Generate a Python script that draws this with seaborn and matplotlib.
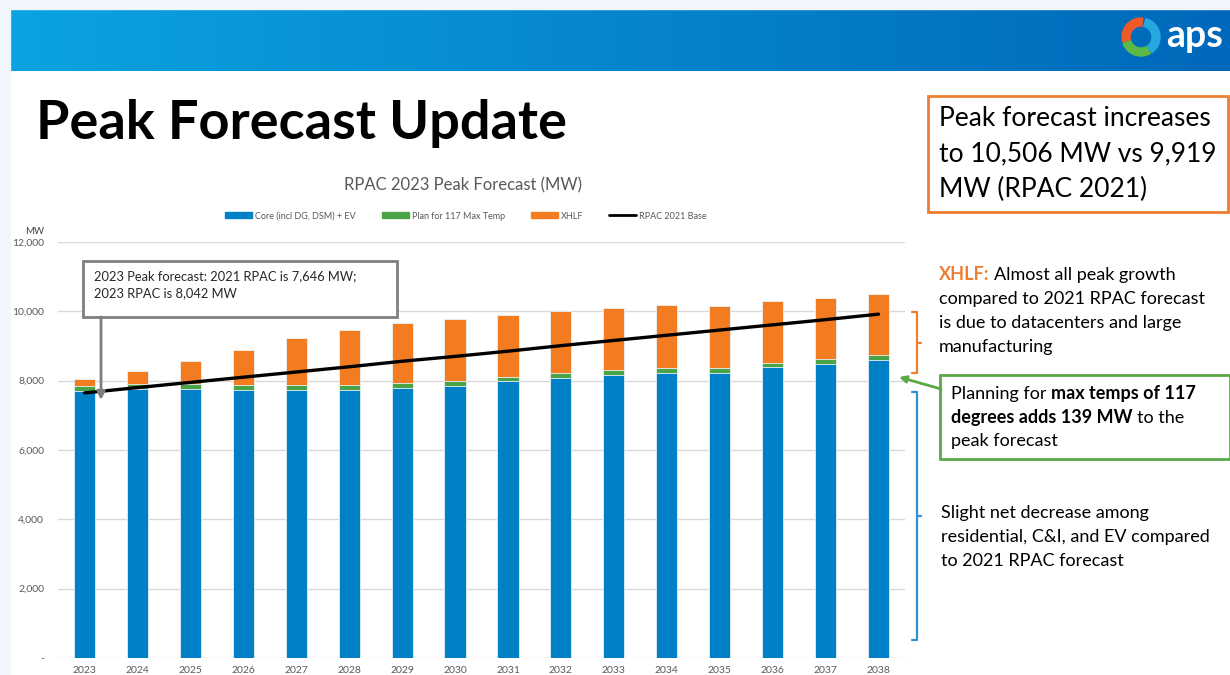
import matplotlib.pyplot as plt
import numpy as np
import pandas as pd
import seaborn as sns
from matplotlib.colors import LinearSegmentedColormap
from matplotlib.lines import Line2D
from matplotlib.patches import Patch, Rectangle, Wedge

# values (MW)
years = [str(y) for y in range(2023, 2039)]
core_ev = [7710, 7760, 7765, 7730, 7735, 7745, 7795, 7850,
           7980, 8075, 8160, 8235, 8225, 8380, 8485, 8590]
max_temp = [139] * 16
xhlf = [193, 388, 653, 1024, 1347, 1568, 1720, 1789,
        1784, 1786, 1787, 1799, 1799, 1778, 1760, 1777]
rpac_2021 = [7646, 7800, 7950, 8100, 8250, 8400, 8560, 8700,
             8850, 9010, 9160, 9310, 9460, 9610, 9760, 9919]
y_ticks = [0, 2000, 4000, 6000, 8000, 10000, 12000]
y_labels = ["-", "2,000", "4,000", "6,000", "8,000", "10,000", "12,000"]
legend_labels = ["Core (incl DG, DSM) + EV", "Plan for 117 Max Temp", "XHLF", "RPAC 2021 Base"]

BLUE = "#0080c6"
GREEN = "#4aa447"
ORANGE = "#f47c20"
GRAY = "#595959"

sns.set_theme(style="white")
plt.rcParams["font.family"] = ["Lato", "DejaVu Sans"]

df = pd.DataFrame({"year": years, "core": core_ev, "temp": max_temp, "xhlf": xhlf})
df["with_temp"] = df["core"] + df["temp"]
df["total"] = df["with_temp"] + df["xhlf"]

W, H = 1230, 675
fig = plt.figure(figsize=(12.3, 6.75), dpi=100)
fig.patch.set_facecolor("white")
ax = fig.add_axes([58 / W, 1 - 658 / H, 847 / W, 416 / H])

# stacked bars: draw cumulative totals from the top segment down
for col, color in [("total", ORANGE), ("with_temp", GREEN), ("core", BLUE)]:
    sns.barplot(data=df, x="year", y=col, color=color, saturation=1, width=0.4,
                edgecolor="#e9f1f8", linewidth=0.6, ax=ax)
sns.lineplot(x=np.arange(len(years)), y=rpac_2021, color="black", linewidth=2.4, ax=ax)

ax.set_xlim(-0.5, len(years) - 0.5)
ax.set_ylim(0, 12000)
ax.set_yticks(y_ticks, y_labels)
ax.set_xlabel("")
ax.set_ylabel("")
ax.grid(axis="y", color="#d9d9d9", linewidth=1)
ax.set_axisbelow(True)
sns.despine(ax=ax, left=True, bottom=True)
ax.tick_params(length=0, labelsize=7.5, labelcolor=GRAY)
ax.tick_params(axis="y", pad=10)
ax.tick_params(axis="x", pad=6)

handles = [Patch(color=BLUE), Patch(color=GREEN), Patch(color=ORANGE),
           Line2D([], [], color="black", linewidth=2)]
fig.legend(handles, legend_labels, ncol=4, loc="center", bbox_to_anchor=(466 / W, 1 - 216 / H),
           frameon=False, fontsize=6.5, handlelength=3.0, handleheight=0.6,
           columnspacing=2.9, handletextpad=0.3, labelcolor=GRAY)

# slide decorations in pixel coordinates
deco = fig.add_axes([0, 0, 1, 1])
deco.axis("off")
deco.add_patch(Rectangle((0, 0), 10, H, color="#f1f6fc"))
deco.add_patch(Rectangle((0, 0), W, 9, color="#f1f6fc"))
banner = LinearSegmentedColormap.from_list("banner", ["#0ca3e2", "#0068ba"])
deco.imshow(np.linspace(0, 1, 256).reshape(1, -1), extent=[10, W, 71, 9], aspect="auto", cmap=banner)
deco.set_xlim(0, W)
deco.set_ylim(H, 0)

cx, cy = 1141, 37
deco.add_patch(Wedge((cx, cy), 19, 165, 275, width=8, color="#f05a28"))
deco.add_patch(Wedge((cx, cy), 19, 60, 160, width=8, color="#5cb946"))
deco.add_patch(Wedge((cx, cy), 19, 285, 415, width=8, color="#25a9e0"))
deco.text(1166, 36, "aps", color="white", fontsize=27, fontweight="bold", va="center")

deco.text(36, 124, "Peak Forecast Update", fontsize=39, fontweight="bold", color="black", va="center")
deco.text(463, 185, "RPAC 2023 Peak Forecast (MW)", fontsize=12, color=GRAY, ha="center", va="center")
deco.text(35, 232, "MW", fontsize=7, color="#404040", ha="center", va="center")

renderer = fig.canvas.get_renderer()


def text_width(s, size, weight):
    t = deco.text(0, 0, s, fontsize=size, fontweight=weight)
    w = t.get_window_extent(renderer=renderer).width
    t.remove()
    return w


def rich_line(x, y, parts, size):
    space = text_width("a a", size, "normal") - text_width("aa", size, "normal")
    for txt, weight, color in parts:
        t = deco.text(x, y, txt, fontsize=size, fontweight=weight, color=color, va="center")
        x += t.get_window_extent(renderer=renderer).width + space


def plain_lines(x, ys, lines, size, color="black"):
    for y, line in zip(ys, lines):
        deco.text(x, y, line, fontsize=size, color=color, va="center")


# callout over the 2023 bar
deco.add_patch(Rectangle((83, 261), 314, 56, facecolor="white", edgecolor="#7f7f7f", linewidth=2))
plain_lines(94, [276, 293], ["2023 Peak forecast: 2021 RPAC is 7,646 MW;", "2023 RPAC is 8,042 MW"],
            9.3, "#262626")
deco.annotate("", xy=(101, 400), xytext=(101, 317),
              arrowprops=dict(arrowstyle="-|>", color="#7f7f7f", lw=2, mutation_scale=12,
                              shrinkA=0, shrinkB=0))

# right-hand commentary
deco.add_patch(Rectangle((928, 96), 300, 116, facecolor="white", edgecolor="#ed7d31", linewidth=2))
plain_lines(939, [119, 154, 189], ["Peak forecast increases", "to 10,506 MW vs 9,919", "MW (RPAC 2021)"], 19)

rich_line(939, 275, [("XHLF:", "bold", "#ed7d31"), ("Almost all peak growth", "normal", "black")], 13)
plain_lines(939, [299, 323, 347], ["compared to 2021 RPAC forecast", "is due to datacenters and large",
                                   "manufacturing"], 13)

deco.add_patch(Rectangle((940, 375), 290, 84, facecolor="white", edgecolor="#5aa846", linewidth=2))
rich_line(951, 394, [("Planning for", "normal", "black"), ("max temps of 117", "bold", "black")], 13)
rich_line(951, 418, [("degrees adds 139 MW", "bold", "black"), ("to the", "normal", "black")], 13)
rich_line(951, 441, [("peak forecast", "normal", "black")], 13)
deco.annotate("", xy=(899, 377), xytext=(941, 389),
              arrowprops=dict(arrowstyle="-|>", color="#5aa846", lw=2, mutation_scale=10,
                              shrinkA=0, shrinkB=0))

plain_lines(941, [513, 537, 561], ["Slight net decrease among", "residential, C&I, and EV compared",
                                   "to 2021 RPAC forecast"], 13)

# brackets
for top, bot, color in [(312, 373, "#ed7d31"), (392, 640, "#2e8fd6")]:
    mid = (top + bot) / 2
    deco.plot([912, 917, 917, 912], [top, top, bot, bot], color=color, lw=1.6)
    deco.plot([917, 921], [mid, mid], color=color, lw=1.6)

fig.savefig("out.png", dpi=100, facecolor="white")
